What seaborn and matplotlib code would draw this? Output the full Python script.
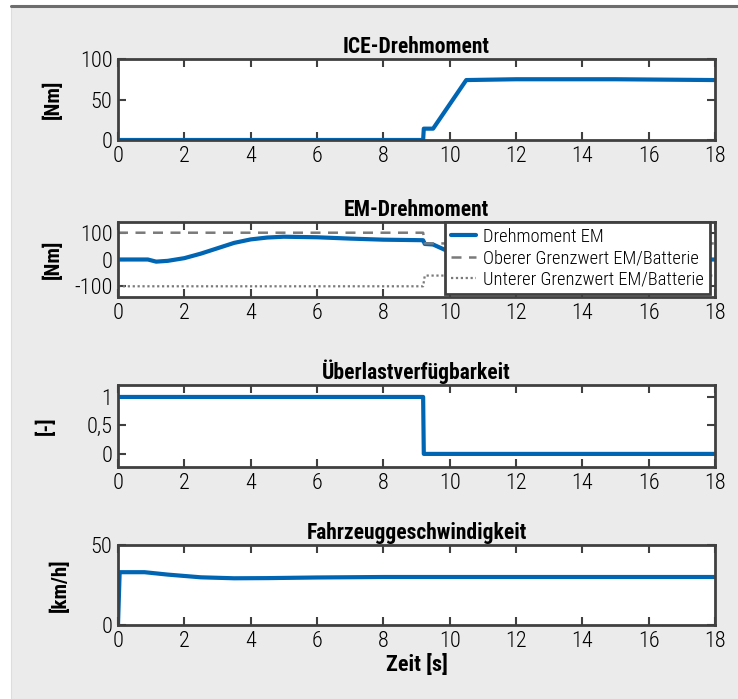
import pandas as pd
import seaborn as sns
import matplotlib.pyplot as plt
from matplotlib.lines import Line2D

# --- data ---
ice_t = [0, 9.2, 9.22, 9.5, 10.5, 12, 13, 15, 18]
ice_v = [0, 0, 14, 14, 74, 75, 75, 75, 74]

em_t = [0, 0.9, 1.15, 1.5, 2, 2.5, 3, 3.5, 4, 4.5, 5, 6, 7, 8, 9.2, 9.25, 9.5, 10, 10.5, 11, 18]
em_v = [0, 0, -8, -5, 5, 22, 42, 62, 75, 82, 85, 83, 78, 74, 72, 58, 56, 28, 8, 0, 0]

upper_t = [0, 9.2, 9.25, 18]
upper_v = [100, 100, 60, 60]
lower_t = [0, 9.2, 9.25, 18]
lower_v = [-100, -100, -60, -60]

ovl_t = [0, 9.2, 9.22, 18]
ovl_v = [1, 1, 0, 0]

spd_t = [0, 0.05, 0.8, 1.5, 2.5, 3.5, 4.5, 6, 8, 18]
spd_v = [0, 33, 33, 31.5, 29.8, 29.2, 29.3, 29.7, 30, 30]

em_labels = ["Drehmoment EM", "Oberer Grenzwert EM/Batterie", "Unterer Grenzwert EM/Batterie"]
xticks = list(range(0, 19, 2))

blue = "#0065b3"
limit_c = "#7a7a7a"
grey_bg = "#ebebeb"
spine_c = "#404040"

sns.set_style("ticks")
plt.rcParams["font.family"] = ["Roboto Condensed", "DejaVu Sans"]
plt.rcParams["axes.unicode_minus"] = False
plt.rcParams["text.color"] = "black"
plt.rcParams["axes.labelcolor"] = "black"
plt.rcParams["xtick.color"] = spine_c
plt.rcParams["ytick.color"] = spine_c
plt.rcParams["xtick.labelcolor"] = "black"
plt.rcParams["ytick.labelcolor"] = "black"

W, H = 738, 699
fig = plt.figure(figsize=(W / 100, H / 100), dpi=100, facecolor="white")
# grey panel + top rule
fig.patches.append(plt.Rectangle((11 / W, 0), 1, 1 - 6 / H, transform=fig.transFigure,
                                 facecolor=grey_bg, edgecolor="#dddddd", lw=0.8, zorder=-10))
fig.add_artist(Line2D([11 / W, 1], [1 - 6 / H, 1 - 6 / H], color="#6d6d6d", lw=2.2))

left, right = 118, 715
boxes = [(59, 140), (222, 297), (385, 467), (545, 625)]
label_edge = [63, 63, 56, 70]
axes = []
for top, bot in boxes:
    axes.append(fig.add_axes([left / W, 1 - bot / H, (right - left) / W, (bot - top) / H]))


def style(ax, i, title, ylabel):
    ax.set_facecolor("white")
    ax.set_xlim(0, 18)
    ax.set_xticks(xticks)
    ax.set_title(title, fontsize=15.5, fontweight="bold", pad=4)
    ax.set_ylabel(ylabel, fontsize=15, fontweight="bold")
    ax.yaxis.set_label_coords((label_edge[i] - left) / (right - left), 0.5)
    ax.set_xlabel("")
    ax.tick_params(direction="in", top=True, right=True, length=5.5, width=1.5,
                   labelsize=16, pad=4)
    for lab in ax.get_xticklabels() + ax.get_yticklabels():
        lab.set_fontweight("light")
    for s in ax.spines.values():
        s.set_color(spine_c)
        s.set_linewidth(2)


# ICE
sns.lineplot(x=ice_t, y=ice_v, ax=axes[0], color=blue, lw=3)
axes[0].set_ylim(0, 100)
axes[0].set_yticks([0, 50, 100])
style(axes[0], 0, "ICE-Drehmoment", "[Nm]")

# EM
ax = axes[1]
em_df = pd.concat([
    pd.DataFrame({"t": em_t, "v": em_v, "s": em_labels[0]}),
    pd.DataFrame({"t": upper_t, "v": upper_v, "s": em_labels[1]}),
    pd.DataFrame({"t": lower_t, "v": lower_v, "s": em_labels[2]}),
])
sns.lineplot(data=em_df, x="t", y="v", hue="s", style="s", ax=ax,
             palette=[blue, limit_c, limit_c],
             dashes=[(1, 0), (4, 3), (1, 1.2)], legend=False)
for ln, lw in zip(ax.lines, [3, 1.8, 1.6]):
    ln.set_linewidth(lw)
ax.set_ylim(-140, 140)
ax.set_yticks([-100, 0, 100])
style(ax, 1, "EM-Drehmoment", "[Nm]")
handles = [Line2D([], [], color=blue, lw=3),
           Line2D([], [], color=limit_c, lw=1.8, dashes=(4, 3)),
           Line2D([], [], color=limit_c, lw=1.6, dashes=(1, 1.2))]
leg = ax.legend(handles, em_labels, loc="upper right",
                bbox_to_anchor=(1 - 5 / (right - left), 1.0), fontsize=13.3,
                frameon=True, fancybox=False, framealpha=1, borderpad=0.32,
                labelspacing=0.17, handlelength=1.35, handletextpad=0.4,
                borderaxespad=0)
leg.get_frame().set_edgecolor(spine_c)
leg.get_frame().set_linewidth(2)
for t in leg.get_texts():
    t.set_fontweight("light")

# Ueberlastverfuegbarkeit
sns.lineplot(x=ovl_t, y=ovl_v, ax=axes[2], color=blue, lw=3)
axes[2].set_ylim(-0.23, 1.21)
axes[2].set_yticks([0, 0.5, 1])
axes[2].set_yticklabels(["0", "0,5", "1"])
style(axes[2], 2, "Überlastverfügbarkeit", "[-]")

# Fahrzeuggeschwindigkeit
sns.lineplot(x=spd_t, y=spd_v, ax=axes[3], color=blue, lw=3)
axes[3].set_ylim(0, 50)
axes[3].set_yticks([0, 50])
style(axes[3], 3, "Fahrzeuggeschwindigkeit", "[km/h]")
axes[3].set_xlabel("Zeit [s]", fontsize=16, fontweight="bold", labelpad=2)

fig.savefig("out.png", dpi=100, facecolor=fig.get_facecolor())
